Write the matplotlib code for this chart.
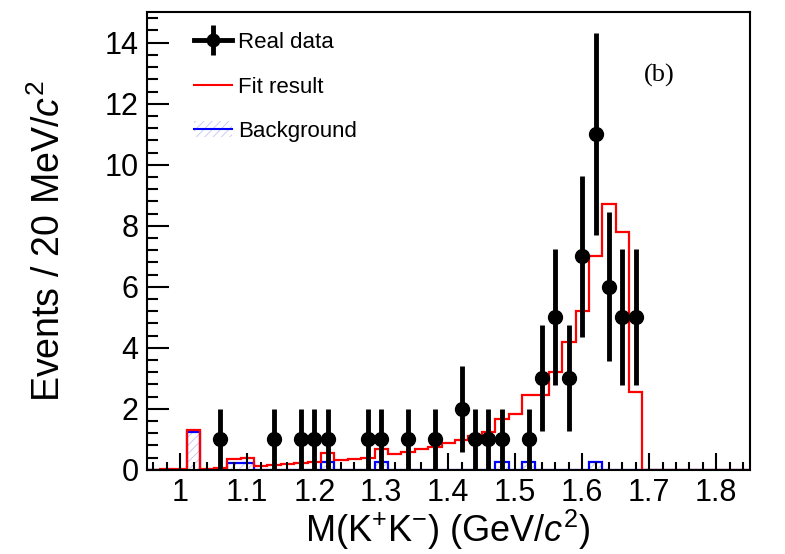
import numpy as np
import matplotlib
matplotlib.use('Agg')
import matplotlib.pyplot as plt
from matplotlib.lines import Line2D
from matplotlib.patches import Patch
from matplotlib.ticker import MultipleLocator

plt.rcParams['font.family'] = ['Liberation Sans', 'DejaVu Sans']
plt.rcParams['mathtext.fontset'] = 'custom'
plt.rcParams['mathtext.rm'] = 'Liberation Sans'
plt.rcParams['mathtext.it'] = 'Liberation Sans:italic'
plt.rcParams['hatch.linewidth'] = 0.6

# histogram binning: 20 MeV bins from 0.95 to 1.85 GeV
bin_edges = np.linspace(0.95, 1.85, 46)

# fit result per bin (red)
fit_vals = [0.0, 0.02, 0.04, 1.30, 0.03, 0.07, 0.36, 0.40, 0.14, 0.16,
            0.19, 0.22, 0.27, 0.54, 0.33, 0.36, 0.40, 0.69, 0.52, 0.59,
            0.68, 0.76, 0.87, 0.98, 1.11, 1.23, 1.67, 1.83, 2.45, 2.45,
            3.20, 4.20, 5.20, 7.00, 8.70, 7.80, 2.55, 0.0, 0.0, 0.0,
            0.0, 0.0, 0.0, 0.0, 0.0]

# background per bin (blue)
bkg_vals = [0.0, 0.0, 0.0, 1.23, 0.0, 0.0, 0.23, 0.23, 0.0, 0.0,
            0.0, 0.0, 0.0, 0.24, 0.0, 0.0, 0.0, 0.24, 0.0, 0.0,
            0.0, 0.0, 0.0, 0.0, 0.0, 0.0, 0.24, 0.0, 0.24, 0.0,
            0.0, 0.0, 0.0, 0.24, 0.0, 0.0, 0.0, 0.0, 0.0, 0.0,
            0.0, 0.0, 0.0, 0.0, 0.0]

# real data points (bin centres and counts)
data_x = [1.06, 1.14, 1.18, 1.20, 1.22, 1.28, 1.30, 1.34, 1.38, 1.42, 1.44,
          1.46, 1.48, 1.52, 1.54, 1.56, 1.58, 1.60, 1.62, 1.64, 1.66, 1.68]
data_y = [1, 1, 1, 1, 1, 1, 1, 1, 1, 2, 1,
          1, 1, 1, 3, 5, 3, 7, 11, 6, 5, 5]

fig = plt.figure(figsize=(7.85, 5.54), dpi=100)
ax = fig.add_axes([0.187, 0.152, 0.768, 0.826])

# background with faint hatch
ax.stairs(bkg_vals, bin_edges, fill=True, facecolor='none', hatch='////',
          edgecolor='#c4c4f4', linewidth=0)
ax.stairs(bkg_vals, bin_edges, color='#0000ff', linewidth=1.6)
ax.stairs(fit_vals, bin_edges, color='#ff0000', linewidth=1.6)

yerr = np.sqrt(np.array(data_y, dtype=float))
ax.errorbar(data_x, data_y, yerr=yerr, fmt='o', color='black', ms=10,
            elinewidth=3.5, capsize=0, zorder=5)

ax.set_xlim(0.95, 1.85)
ax.set_ylim(0, 15)
ax.xaxis.set_major_locator(MultipleLocator(0.1))
ax.xaxis.set_minor_locator(MultipleLocator(0.02))
ax.yaxis.set_major_locator(MultipleLocator(2))
ax.yaxis.set_minor_locator(MultipleLocator(0.4))
ax.set_xticks(np.arange(1.0, 1.81, 0.1))
ax.set_xticklabels(['1', '1.1', '1.2', '1.3', '1.4', '1.5', '1.6', '1.7', '1.8'])
ax.tick_params(which='both', direction='in', labelsize=22, width=1.5)
ax.tick_params(which='major', length=12)
ax.tick_params(which='minor', length=6)
ax.tick_params(axis='y', which='major', length=16)
ax.tick_params(axis='y', which='minor', length=8)
ax.tick_params(axis='x', pad=6)
ax.tick_params(axis='y', pad=6)
for s in ax.spines.values():
    s.set_linewidth(1.5)

ax.set_xlabel(r'M(K$^{+}$K$^{-}$) (GeV/$\it{c}^{2}$)', fontsize=26, labelpad=0)
ax.set_ylabel(r'Events / 20 MeV/$\it{c}^{2}$', fontsize=27, labelpad=26)

ax.text(0.85, 0.862, '(b)', transform=ax.transAxes, fontsize=19,
        family='Liberation Serif', ha='center', va='center')

h_data = (Line2D([], [], color='black', lw=3.5, marker='|', ms=22, mew=3.5, ls='-'),
          Line2D([], [], color='black', marker='o', ms=9, ls='none'))
h_fit = Line2D([], [], color='#ff0000', lw=1.5)
h_bkg = (Patch(facecolor='none', edgecolor='#c4c4f4', hatch='////', linewidth=0),
         Line2D([], [], color='#0000ff', lw=1.5))
ax.legend([h_data, h_fit, h_bkg], ['Real data', 'Fit result', 'Background'],
          loc='upper left', bbox_to_anchor=(0.045, 1.0), frameon=False,
          fontsize=16, labelspacing=1.05, handlelength=1.7, handletextpad=0.3)

fig.savefig('out.png', dpi=100)
